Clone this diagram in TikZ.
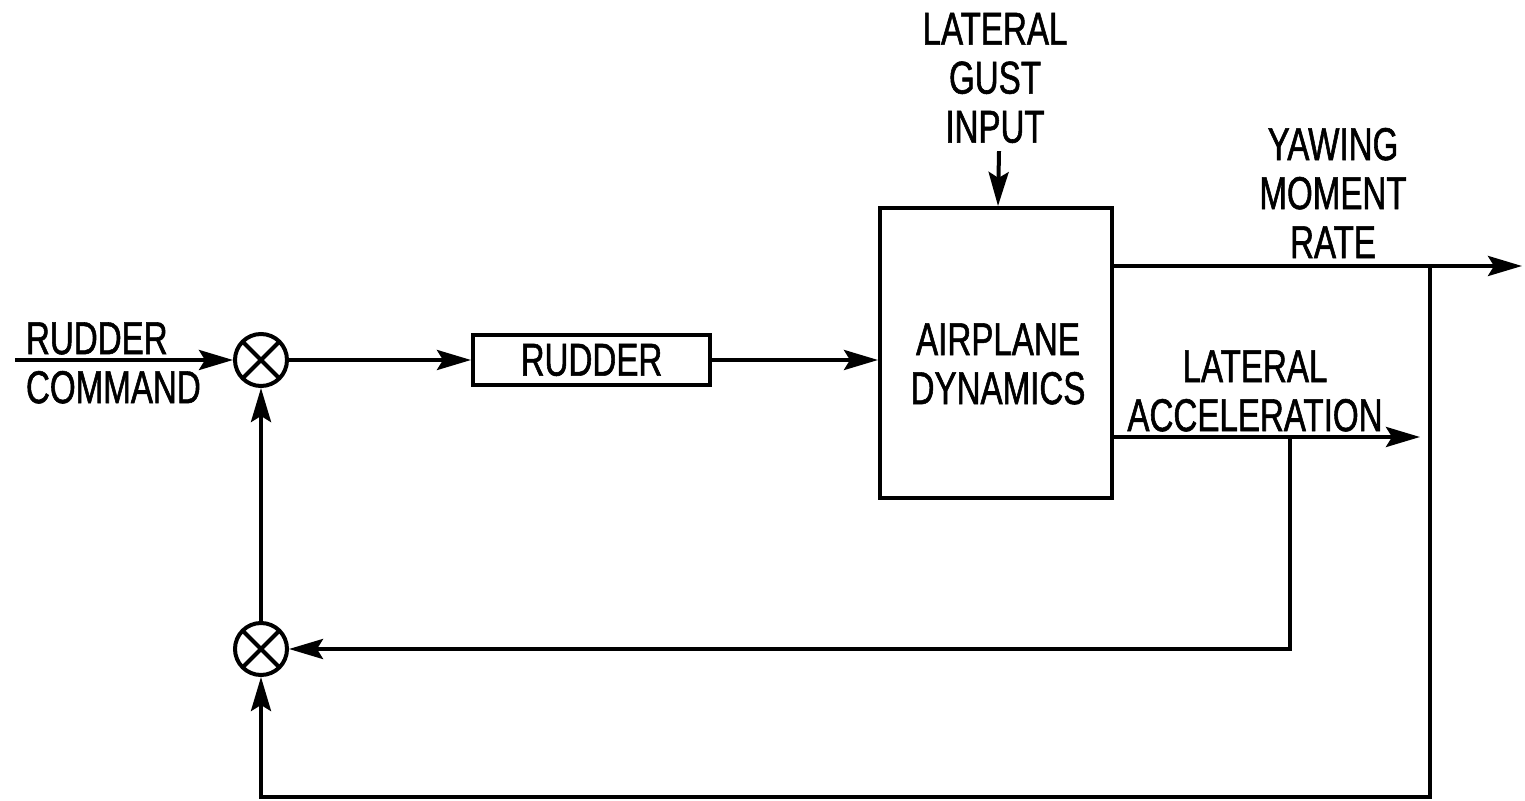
\documentclass[tikz,border=0pt]{standalone}
\usepackage{fontspec}
\setmainfont{Liberation Sans}[FakeStretch=0.72,FakeBold=1.2]
\usetikzlibrary{arrows.meta}

\begin{document}
\begin{tikzpicture}[x=0.5pt,y=-0.5pt,line width=2pt,>={Stealth[length=17pt,width=10pt,inset=3pt]},
  sumjn/.style={circle,draw,minimum size=26pt,inner sep=0pt,
    path picture={\draw[line width=2pt] (path picture bounding box.north west) -- (path picture bounding box.south east)
      (path picture bounding box.south west) -- (path picture bounding box.north east);}},
  blk/.style={draw,inner sep=0pt,align=center,font=\fontsize{23}{24.5}\selectfont},
  lbl/.style={inner sep=0pt,align=center,font=\fontsize{23}{24.5}\selectfont}]
  \useasboundingbox (0,0) rectangle (1525,801);
  % summing junctions and blocks
  \node[sumjn] (s1) at (261,360) {};
  \node[sumjn] (s2) at (261,649) {};
  \node[blk,minimum width=118.5pt,minimum height=25pt] (rud) at (591.5,360) {RUDDER};
  \node[blk,minimum width=116pt,minimum height=145pt] (air) at (996,353) {};
  \node[lbl] (airtxt) at (998,364) {AIRPLANE\\DYNAMICS};
  % labels
  \node[lbl,align=left,anchor=west] (cmd) at (24,363) {RUDDER\\COMMAND};
  \node[lbl] (gust) at (995,78) {LATERAL\\GUST\\INPUT};
  \node[lbl] (yaw) at (1333,193) {YAWING\\MOMENT\\RATE};
  \node[lbl] (acc) at (1255,391) {LATERAL\\ACCELERATION};
  \coordinate (cin) at (15,360);
  \coordinate (yout) at (1522,266);
  \coordinate (aout) at (1420,437);
  \coordinate (ytap) at (1430,266);
  \coordinate (atap) at (1290,437);
  \coordinate (ybot) at (1430,797);
  % forward path
  \draw[->] (cin) -- (s1);
  \draw[->] (s1) -- (rud);
  \draw[->] (rud) -- (air.west |- rud);
  \draw[->] (air.north |- gust.south) ++(3,6) -- (air.north -| 998,0);
  \draw[->] (air.east |- yout) -- (yout);
  \draw[->] (air.east |- aout) -- (aout);
  % feedback
  \draw[->] (atap) |- (s2.east);
  \draw[->] (ytap) -- (ybot) -| (s2.south);
  \draw[->] (s2) -- (s1);
\end{tikzpicture}
\end{document}
